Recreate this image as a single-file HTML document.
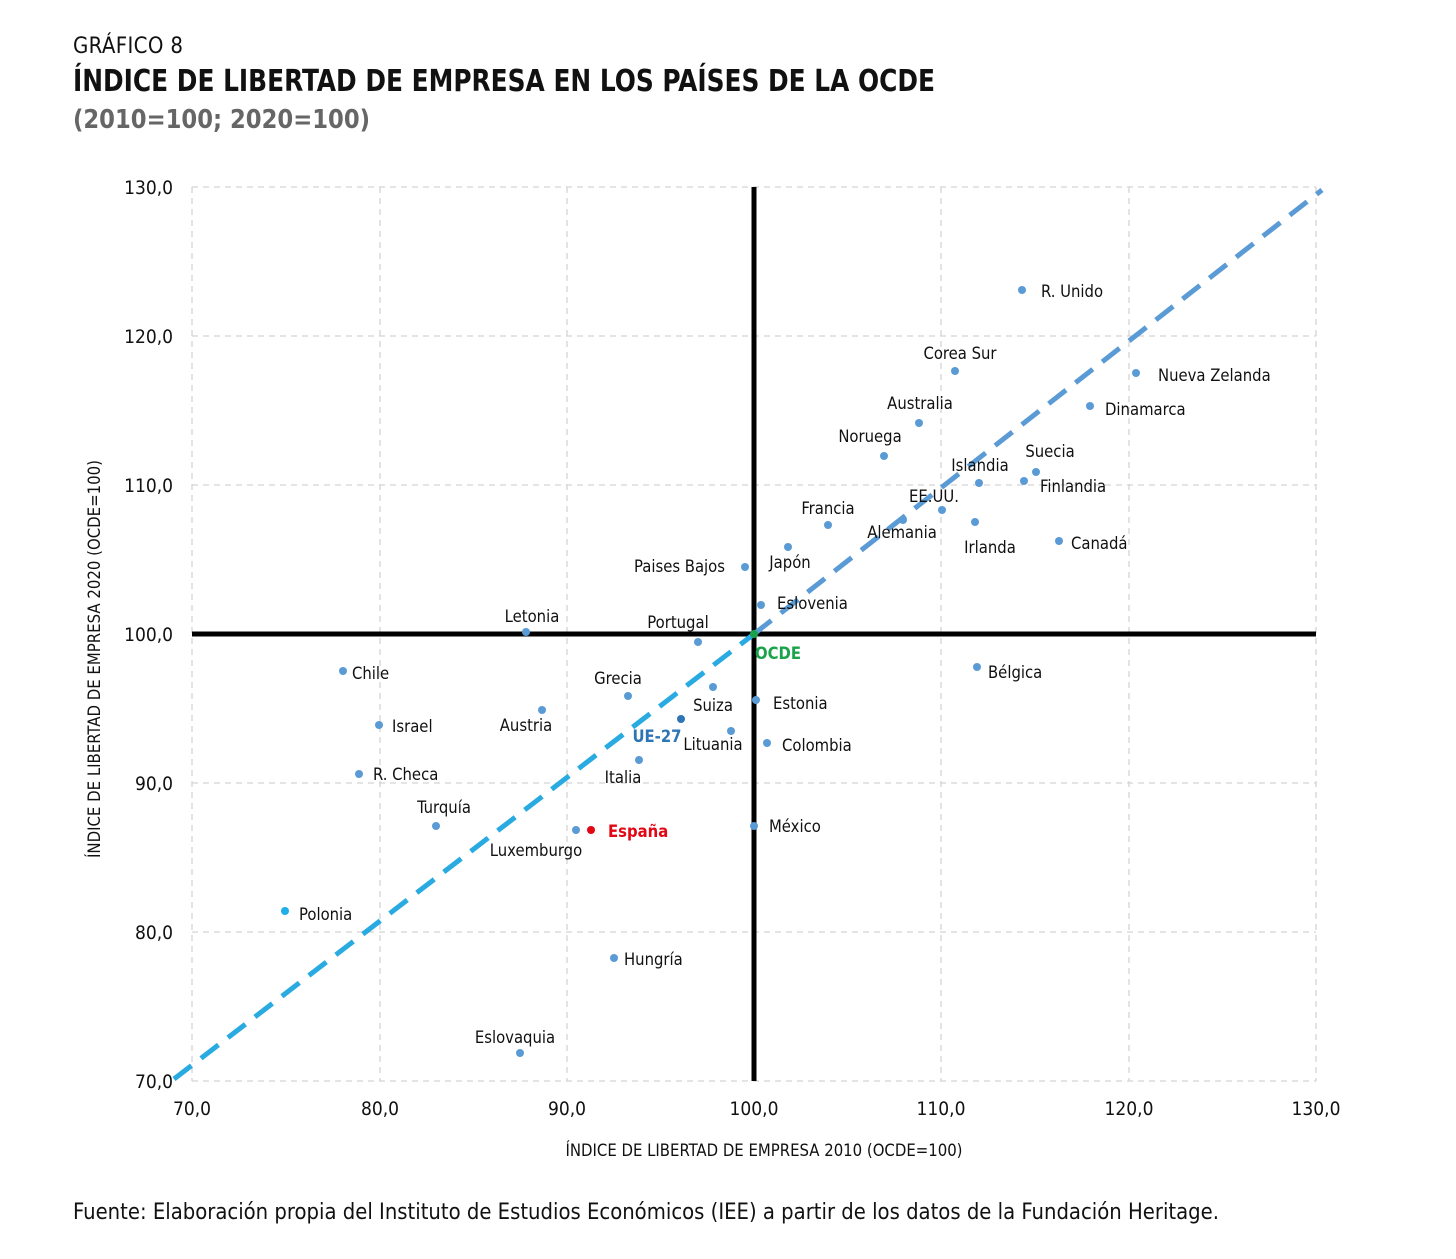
<!DOCTYPE html>
<html><head><meta charset="utf-8"><style>
html,body{margin:0;padding:0;background:#fff;width:1456px;height:1259px;overflow:hidden}
svg{display:block}
text{font-family:"DejaVu Sans Condensed","Liberation Sans",sans-serif}
</style></head><body>
<svg width="1456" height="1259" viewBox="0 0 1456 1259" xmlns="http://www.w3.org/2000/svg">
<text x="73" y="53" font-size="22" fill="#111" textLength="110">GRÁFICO 8</text>
<text x="73" y="91" font-size="30" font-weight="bold" fill="#111" textLength="862" lengthAdjust="spacingAndGlyphs">ÍNDICE DE LIBERTAD DE EMPRESA EN LOS PAÍSES DE LA OCDE</text>
<text x="73" y="128" font-size="26" font-weight="bold" fill="#666" textLength="297" lengthAdjust="spacingAndGlyphs">(2010=100; 2020=100)</text>

<g stroke="#d4d4d4" stroke-width="1.3" stroke-dasharray="6,5" fill="none">
<line x1="192" y1="187" x2="1316" y2="187"/>
<line x1="192" y1="336" x2="1316" y2="336"/>
<line x1="192" y1="485" x2="1316" y2="485"/>
<line x1="192" y1="783" x2="1316" y2="783"/>
<line x1="192" y1="932" x2="1316" y2="932"/>
<line x1="192" y1="1081" x2="1316" y2="1081"/>
<line x1="192" y1="187" x2="192" y2="1081"/>
<line x1="380" y1="187" x2="380" y2="1081"/>
<line x1="567" y1="187" x2="567" y2="1081"/>
<line x1="941" y1="187" x2="941" y2="1081"/>
<line x1="1129" y1="187" x2="1129" y2="1081"/>
<line x1="1316" y1="187" x2="1316" y2="1081"/>
</g>
<line x1="192" y1="634" x2="1316" y2="634" stroke="#000" stroke-width="5"/>
<line x1="754" y1="187" x2="754" y2="1081" stroke="#000" stroke-width="5"/>
<line x1="174" y1="1079" x2="754" y2="634" stroke="#29abe2" stroke-width="5" stroke-dasharray="22,12"/>
<line x1="754" y1="634" x2="1322" y2="190" stroke="#5b9bd5" stroke-width="5" stroke-dasharray="22,12"/>

<g font-size="19" fill="#111">
<text x="173" y="194" text-anchor="end">130,0</text>
<text x="173" y="343" text-anchor="end">120,0</text>
<text x="173" y="492" text-anchor="end">110,0</text>
<text x="173" y="641" text-anchor="end">100,0</text>
<text x="173" y="790" text-anchor="end">90,0</text>
<text x="173" y="939" text-anchor="end">80,0</text>
<text x="173" y="1088" text-anchor="end">70,0</text>
<text x="192" y="1115" text-anchor="middle">70,0</text>
<text x="380" y="1115" text-anchor="middle">80,0</text>
<text x="567" y="1115" text-anchor="middle">90,0</text>
<text x="754" y="1115" text-anchor="middle">100,0</text>
<text x="941" y="1115" text-anchor="middle">110,0</text>
<text x="1129" y="1115" text-anchor="middle">120,0</text>
<text x="1316" y="1115" text-anchor="middle">130,0</text>
</g>
<text x="764" y="1156" font-size="16.5" text-anchor="middle" fill="#111" textLength="397" lengthAdjust="spacingAndGlyphs">ÍNDICE DE LIBERTAD DE EMPRESA 2010 (OCDE=100)</text>
<text transform="translate(100,659) rotate(-90)" font-size="16.5" text-anchor="middle" fill="#111" textLength="398" lengthAdjust="spacingAndGlyphs">ÍNDICE DE LIBERTAD DE EMPRESA 2020 (OCDE=100)</text>

<g fill="#5b9bd5">
<circle cx="1022" cy="290" r="4"/><circle cx="955" cy="371" r="4"/><circle cx="1136" cy="373" r="4"/>
<circle cx="919" cy="423" r="4"/><circle cx="1090" cy="406" r="4"/><circle cx="884" cy="456" r="4"/>
<circle cx="1036" cy="472" r="4"/><circle cx="979" cy="483" r="4"/><circle cx="1024" cy="481" r="4"/>
<circle cx="942" cy="510" r="4"/><circle cx="828" cy="525" r="4"/><circle cx="903" cy="520" r="4"/>
<circle cx="975" cy="522" r="4"/><circle cx="1059" cy="541" r="4"/><circle cx="788" cy="547" r="4"/>
<circle cx="745" cy="567" r="4"/><circle cx="761" cy="605" r="4"/><circle cx="526" cy="632" r="4"/>
<circle cx="698" cy="642" r="4"/><circle cx="343" cy="671" r="4"/><circle cx="977" cy="667" r="4"/>
<circle cx="628" cy="696" r="4"/><circle cx="713" cy="687" r="4"/><circle cx="756" cy="700" r="4"/>
<circle cx="542" cy="710" r="4"/><circle cx="379" cy="725" r="4"/><circle cx="731" cy="731" r="4"/>
<circle cx="767" cy="743" r="4"/><circle cx="639" cy="760" r="4"/><circle cx="359" cy="774" r="4"/>
<circle cx="436" cy="826" r="4"/><circle cx="576" cy="830" r="4"/><circle cx="754" cy="826" r="4"/>
<circle cx="614" cy="958" r="4"/><circle cx="520" cy="1053" r="4"/>
</g>
<circle cx="681" cy="719" r="4" fill="#2e75b6"/>
<circle cx="754" cy="634" r="4" fill="#1aa34a"/>
<circle cx="591" cy="830" r="4" fill="#e30613"/>
<circle cx="285" cy="911" r="4" fill="#1eaee8"/>

<g font-size="16.5" fill="#111">
<text x="1041" y="297">R. Unido</text>
<text x="960" y="359" text-anchor="middle">Corea Sur</text>
<text x="1158" y="381">Nueva Zelanda</text>
<text x="920" y="409" text-anchor="middle">Australia</text>
<text x="1105" y="415">Dinamarca</text>
<text x="870" y="442" text-anchor="middle">Noruega</text>
<text x="1050" y="457" text-anchor="middle">Suecia</text>
<text x="980" y="471" text-anchor="middle">Islandia</text>
<text x="1040" y="492">Finlandia</text>
<text x="934" y="502" text-anchor="middle">EE.UU.</text>
<text x="828" y="514" text-anchor="middle">Francia</text>
<text x="902" y="538" text-anchor="middle">Alemania</text>
<text x="990" y="553" text-anchor="middle">Irlanda</text>
<text x="1071" y="549">Canadá</text>
<text x="790" y="568" text-anchor="middle">Japón</text>
<text x="725" y="572" text-anchor="end">Paises Bajos</text>
<text x="777" y="609">Eslovenia</text>
<text x="532" y="622" text-anchor="middle">Letonia</text>
<text x="678" y="628" text-anchor="middle">Portugal</text>
<text x="352" y="679">Chile</text>
<text x="988" y="678">Bélgica</text>
<text x="618" y="684" text-anchor="middle">Grecia</text>
<text x="713" y="711" text-anchor="middle">Suiza</text>
<text x="773" y="709">Estonia</text>
<text x="526" y="731" text-anchor="middle">Austria</text>
<text x="392" y="732">Israel</text>
<text x="713" y="750" text-anchor="middle">Lituania</text>
<text x="782" y="751">Colombia</text>
<text x="623" y="783" text-anchor="middle">Italia</text>
<text x="373" y="780">R. Checa</text>
<text x="444" y="813" text-anchor="middle">Turquía</text>
<text x="536" y="856" text-anchor="middle">Luxemburgo</text>
<text x="769" y="832">México</text>
<text x="299" y="920">Polonia</text>
<text x="624" y="965">Hungría</text>
<text x="515" y="1043" text-anchor="middle">Eslovaquia</text>
</g>
<text x="755" y="659" font-size="16.5" font-weight="bold" fill="#1aa34a">OCDE</text>
<text x="657" y="742" font-size="16.5" font-weight="bold" fill="#2e75b6" text-anchor="middle">UE-27</text>
<text x="608" y="837" font-size="16.5" font-weight="bold" fill="#e30613">España</text>

<text x="73" y="1219" font-size="22" fill="#111" textLength="1146" lengthAdjust="spacingAndGlyphs">Fuente: Elaboración propia del Instituto de Estudios Económicos (IEE) a partir de los datos de la Fundación Heritage.</text>
</svg>
</body></html>
